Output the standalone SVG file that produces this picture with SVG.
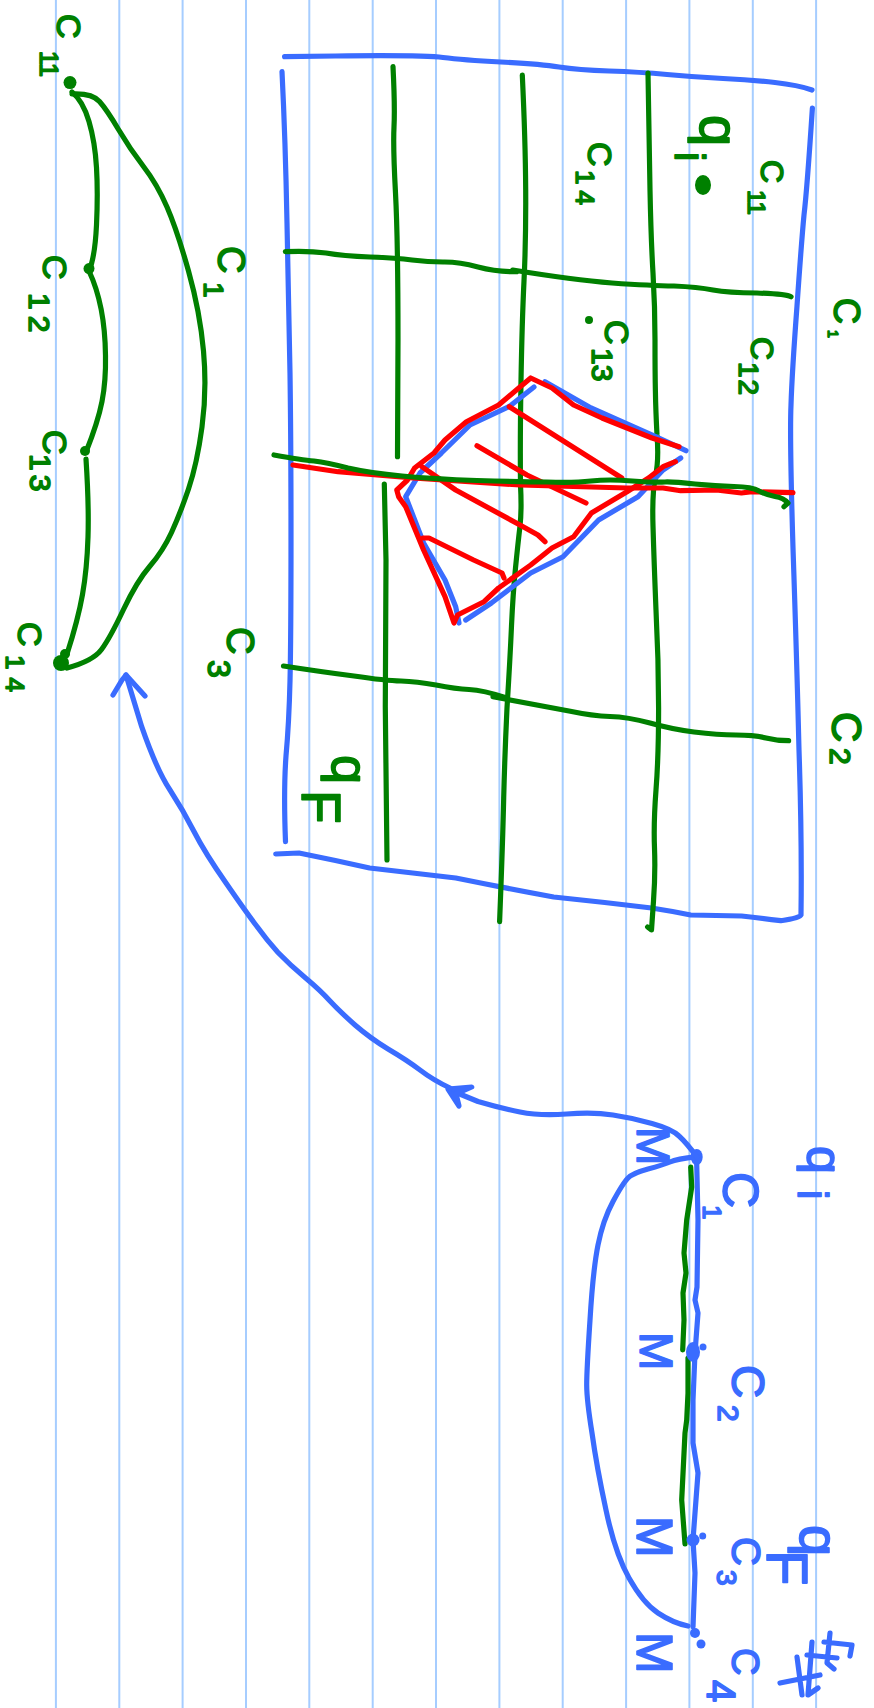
<svg xmlns="http://www.w3.org/2000/svg" width="874" height="1708" viewBox="0 0 874 1708">
<style>
.r{stroke:#a6cdff;stroke-width:2;fill:none}
.b,.g,.d{fill:none;stroke-width:5.2;stroke-linecap:round;stroke-linejoin:round}
.b{stroke:#3a6cff}.g{stroke:#008000}.d{stroke:#ff0000}
.fb{fill:#3a6cff}.fg{fill:#008000}
text{font-family:"Liberation Sans",Arial,sans-serif;stroke-width:1.6;stroke-linejoin:round}
text.fb{stroke:#3a6cff}text.fg{stroke:#008000}
</style>
<rect width="874" height="1708" fill="#fff"/>
<g id="rules">
<path class="r" d="M55.9 0V1708M119.3 0V1708M182.6 0V1708M246 0V1708M309.3 0V1708M372.7 0V1708M436 0V1708M499.4 0V1708M562.7 0V1708M626.1 0V1708M689.4 0V1708M752.8 0V1708M816.1 0V1708"/>
</g>
<g id="arcs">
<path class="g" d="M72 94Q92 93 99.5 101.5Q107 110 118.5 129.5Q130 149 143.5 166.5Q157 184 167 207Q177 230 188.5 271Q200 312 203.5 351Q207 390 202 427Q197 464 188.5 489Q180 514 171.5 532.5Q163 551 150 566Q137 581 123.5 609.5Q110 638 101.5 649.5Q93 661 67 668"/>
<path class="g" d="M72 92Q83 101 89 121.5Q95 142 96.5 167.5Q98 193 96.5 225Q95 257 89 271"/>
<path class="g" d="M89 271Q105 305 105.5 355.5Q106 381 102 401.5Q98 422 86 452"/>
<path class="g" d="M86 459Q89 505 88 537Q87 569 82.5 594.5Q78 620 67 654"/>
<circle class="fg" cx="70" cy="82.6" r="6.5"/><circle class="fg" cx="89" cy="268.6" r="5.5"/><circle class="fg" cx="85" cy="451" r="5"/><circle class="fg" cx="61" cy="663" r="8"/><circle class="fg" cx="65" cy="654" r="5"/>
</g>
<g id="grid">
<path class="b" d="M284.6 56.7L335.5 56Q424 55 443 57.5Q462.6 60 501 62Q539.6 64 559 67Q578 70 609 71Q640 72 667 74.5Q693.7 77 723 78.5Q751.5 80 775 82.5Q797.7 85 812 90"/>
<path class="b" d="M282 71.7Q285.4 140 287 223Q289 307 290 373Q291 440 291 540Q291 640 290 681Q289 723 286 756Q283.5 790 285.5 841.7"/>
<path class="b" d="M812.4 108Q807 190 804 215Q801.6 240 797 306Q792 373 791 405Q789.6 437 793 548Q796.8 660 799 750Q802 840 801 915Q800 918 780.8 920.7Q761 918 741.6 916Q716 915.5 690.7 915Q671 911 651.5 908Q602 902 553.7 897Q505 888 455.8 878Q413 873 369.6 868Q334 860 299 853L275.7 854"/>
<path class="g" d="M393 66.7Q395 106.7 394 127Q393 146.7 395.5 193Q398 240 398 340L397.5 456.7"/>
<path class="g" d="M384.3 484L386 560L385.3 706.7L387 860"/>
<path class="g" d="M522.3 75Q525.4 140 525.7 190Q526 240 524 281Q522 323 521 381Q520 440 520.5 485Q521.8 510 520 526Q518 543 515.5 568Q513 593 511.5 626Q510 660 507 708Q504.7 756.7 503.7 798Q502.8 840 499.6 921.7"/>
<path class="g" d="M648 73Q649 140 650 190Q651 240 653 273Q655 307 655 340Q655 373 655.4 391Q655.7 410 657 435Q659 460 655.5 476Q652 493 653 526Q654 560 656 610Q658.6 660 658.6 708Q658.6 756.7 656 790Q653.5 823 654.5 848Q655.5 873 653.5 901L651.5 930L647.6 927"/>
<path class="g" d="M285.4 251.7Q308.5 250.7 326 253Q343 256 370 257Q397 258 412 260Q428 262 443 262Q458.7 261.7 478 267Q497 272 516.5 271.7"/>
<path class="g" d="M512.7 270Q574 280 612 283Q651 285.7 674 286Q697.6 287 713 290Q728 292.7 757 293Q786 294 791 296.7"/>
<path class="g" d="M283.5 666Q322.6 672 354 676Q385.3 680.7 401 681Q416.6 681.7 436 685Q455.8 689 469 689.5Q483 690 506.7 698"/>
<path class="g" d="M493 696.7Q545.8 706.7 569 711Q592.8 716 610 716.5Q628 717 650 723Q671 729 694 732Q718 735 736 735Q755 735 766 738Q776.8 740.7 788.6 740.7"/>
</g>
<g id="patch">
<path class="b" d="M534 387L509 406.7L470 425L441.4 453L420 473L405.7 496.7L423.6 543L445 580L455.7 606.7L459 623"/>
<path class="b" d="M465.7 620L491.4 603L530.7 573L563 556.7L598.6 520L638 496.7L663 470L680.7 458"/>
<path class="b" d="M545 381.7L591 408L655.7 436.7L686 450.7"/>
<path class="d" d="M679 446.7L652 438L602 418L573.6 405L552 388L530.7 378L516.4 390L498.6 405L466.4 421.7L445 440L434 453L414.6 468L407.5 480L396.8 490L398.6 496.7L405.7 506.7L423.6 550L445 596.7L454 623L457.5 615L484 601.7L498.6 588L530.7 565L552 548L573.6 536.7L591.4 513L627 491.7L648.6 478L663 466.7L675.4 461.7"/>
<path class="d" d="M293 465L338 471.7L413 478L520 485L627 488L663 488L680.7 490.7L716.4 490L741.4 493L752 491.7L793 492.7"/>
<path class="d" d="M509.3 406.7L621.8 478"/>
<path class="d" d="M477 445.7L527 475L586 503"/>
<path class="d" d="M421.8 466.7L455.7 490L520 525L538 535L545 541.7"/>
<path class="d" d="M423 538L429 538L473.6 560L502 573L504 578"/>
<path class="g" d="M274 455Q302 460 314 461Q327 462.7 348 468Q370 473 402 476Q434 479 477 480.5Q520 481.7 547 482Q573.6 483 591 481Q609 479 632 481Q655.7 482.7 665 482Q673.6 481.7 695 484Q716 486 734 486.5Q752 486.7 759 491Q766.4 495 775 496.5Q784 498 788 503L784 506.7"/>
</g>
<g id="curve">
<path class="b" d="M696.7 1163L698 1220L697 1287L695 1300L698 1313L695 1353L693 1400L693 1443L698 1473L695 1513L693 1540L695 1573L693 1627"/>
<path class="g" d="M690.7 1167L691.7 1187L686.7 1220L684 1253L686 1273L683 1293L684 1320L682.7 1350"/>
<path class="g" d="M688 1358L688 1393L686.7 1420L685 1433L681.7 1500L685 1544"/>
<path class="b" d="M696.7 1156.7Q676.7 1159 670 1162Q663 1165 648 1169Q633 1173 628 1178Q623 1183 613 1201.5Q603 1220 598 1245Q593 1270 590 1320Q586.7 1370 586.7 1385Q586.7 1400 592 1433Q596.7 1467 606 1510Q615 1553 629 1578Q643 1603 658 1613Q673 1623 688 1626"/>
<ellipse class="fb" cx="696.7" cy="1157" rx="6" ry="8"/><ellipse class="fb" cx="693" cy="1352" rx="7" ry="10"/><circle class="fb" cx="703" cy="1347" r="3.5"/><circle class="fb" cx="693" cy="1540" r="6.5"/><circle class="fb" cx="702.7" cy="1536" r="3.5"/><circle class="fb" cx="695" cy="1633" r="5"/><circle class="fb" cx="701" cy="1644" r="4.5"/>
</g>
<g id="connectors">
<path class="b" d="M696.7 1156.7Q686.7 1143 679 1136Q671.7 1129 652 1123.5Q633 1118 613 1115Q593 1111.7 566.5 1114Q540 1116 520 1112Q500 1108 478 1101.5L450 1090"/>
<path class="b fb" d="M471.7 1087L448 1089L459 1106L456 1094Z"/>
<path class="b" d="M126 675L141.7 726.7Q156.7 770 170 790Q183 810 194 831.5Q205 853 226 883Q246.7 913 257 926.5Q266.7 940 278 952.5Q290 965 305 977.5Q320 990 330 1001Q340 1011.7 355 1025Q370 1038 388 1049Q406.7 1060 420 1070Q433 1080 450 1088"/>
<path class="b" d="M113 695L122 680L126 675L145 696"/>
</g>
<g id="labels-arcs">
<text class="fg" font-size="34" transform="translate(57,14) rotate(90)">C<tspan x="37" y="17" font-size="25">11</tspan></text>
<text class="fg" font-size="34" transform="translate(43,255) rotate(90)">C<tspan x="38" y="14" font-size="30" letter-spacing="6">12</tspan></text>
<text class="fg" font-size="34" transform="translate(43,430) rotate(90)">C<tspan x="24" y="13" font-size="30" letter-spacing="4">13</tspan></text>
<text class="fg" font-size="34" transform="translate(18,622) rotate(90)">C<tspan x="33" y="12" font-size="26" letter-spacing="8">14</tspan></text>
<text class="fg" font-size="38" transform="translate(218,246) rotate(90)">C<tspan x="36" y="14" font-size="28">1</tspan></text>
<text class="fg" font-size="38" transform="translate(227,627) rotate(90)">C<tspan x="33" y="19" font-size="32">3</tspan></text>
</g>
<g id="labels-grid">
<text class="fg" font-size="56" transform="translate(700,115) rotate(90)">q<tspan x="37" y="25" font-size="42">i</tspan></text>
<ellipse class="fg" cx="703" cy="185" rx="8" ry="10"/>
<text class="fg" font-size="32" transform="translate(761,160) rotate(90)">C<tspan x="30" y="13" font-size="24">11</tspan></text>
<text class="fg" font-size="34" transform="translate(588,142) rotate(90)">C<tspan x="28" y="12" font-size="26" letter-spacing="6">14</tspan></text>
<text class="fg" font-size="34" transform="translate(605,320) rotate(90)">C<tspan x="28" y="13" font-size="30">13</tspan></text>
<circle class="fg" cx="589" cy="320" r="4"/>
<text class="fg" font-size="32" transform="translate(751,337) rotate(90)">C<tspan x="25" y="12" font-size="28" letter-spacing="2">12</tspan></text>
<text class="fg" font-size="36" transform="translate(834,298) rotate(90)">C<tspan x="32" y="6" font-size="14">1</tspan></text>
<text class="fg" font-size="42" transform="translate(832,712) rotate(90)">C<tspan x="36" y="2" font-size="30">2</tspan></text>
<text class="fg" font-size="52" transform="translate(332,755) rotate(90)">q<tspan x="35" y="30" font-size="55">F</tspan></text>
</g>
<g id="labels-curve">
<text class="fb" font-size="50" transform="translate(807,1146) rotate(90)">q<tspan x="44" y="9" font-size="42">i</tspan></text>
<text class="fb" font-size="50" transform="translate(723,1172) rotate(90)">C<tspan x="33" y="20" font-size="26">1</tspan></text>
<text class="fb" font-size="46" transform="translate(732,1365) rotate(90)">C<tspan x="40" y="14" font-size="30">2</tspan></text>
<text class="fb" font-size="40" transform="translate(732,1537) rotate(90)">C<tspan x="33" y="15" font-size="28">3</tspan></text>
<text class="fb" font-size="38" transform="translate(732,1648) rotate(90)">C<tspan x="32" y="25" font-size="40">4</tspan></text>
<text class="fb" font-size="56" transform="translate(800,1525) rotate(90)">q<tspan x="25" y="33" font-size="58">F</tspan></text>
<text class="fb" font-size="46" transform="translate(637,1127) rotate(90)">M</text>
<text class="fb" font-size="46" transform="translate(640,1332) rotate(90)">M</text>
<text class="fb" font-size="50" transform="translate(637,1516) rotate(90)">M</text>
<text class="fb" font-size="50" transform="translate(637,1632) rotate(90)">M</text>
<path class="b" d="M780 1683L820 1675M797 1657L802 1695M812 1642L808 1695L818 1688M807 1655L837 1658M830 1633L827 1663L834 1669M824 1642L852 1645L850 1656"/>
</g>
</svg>
